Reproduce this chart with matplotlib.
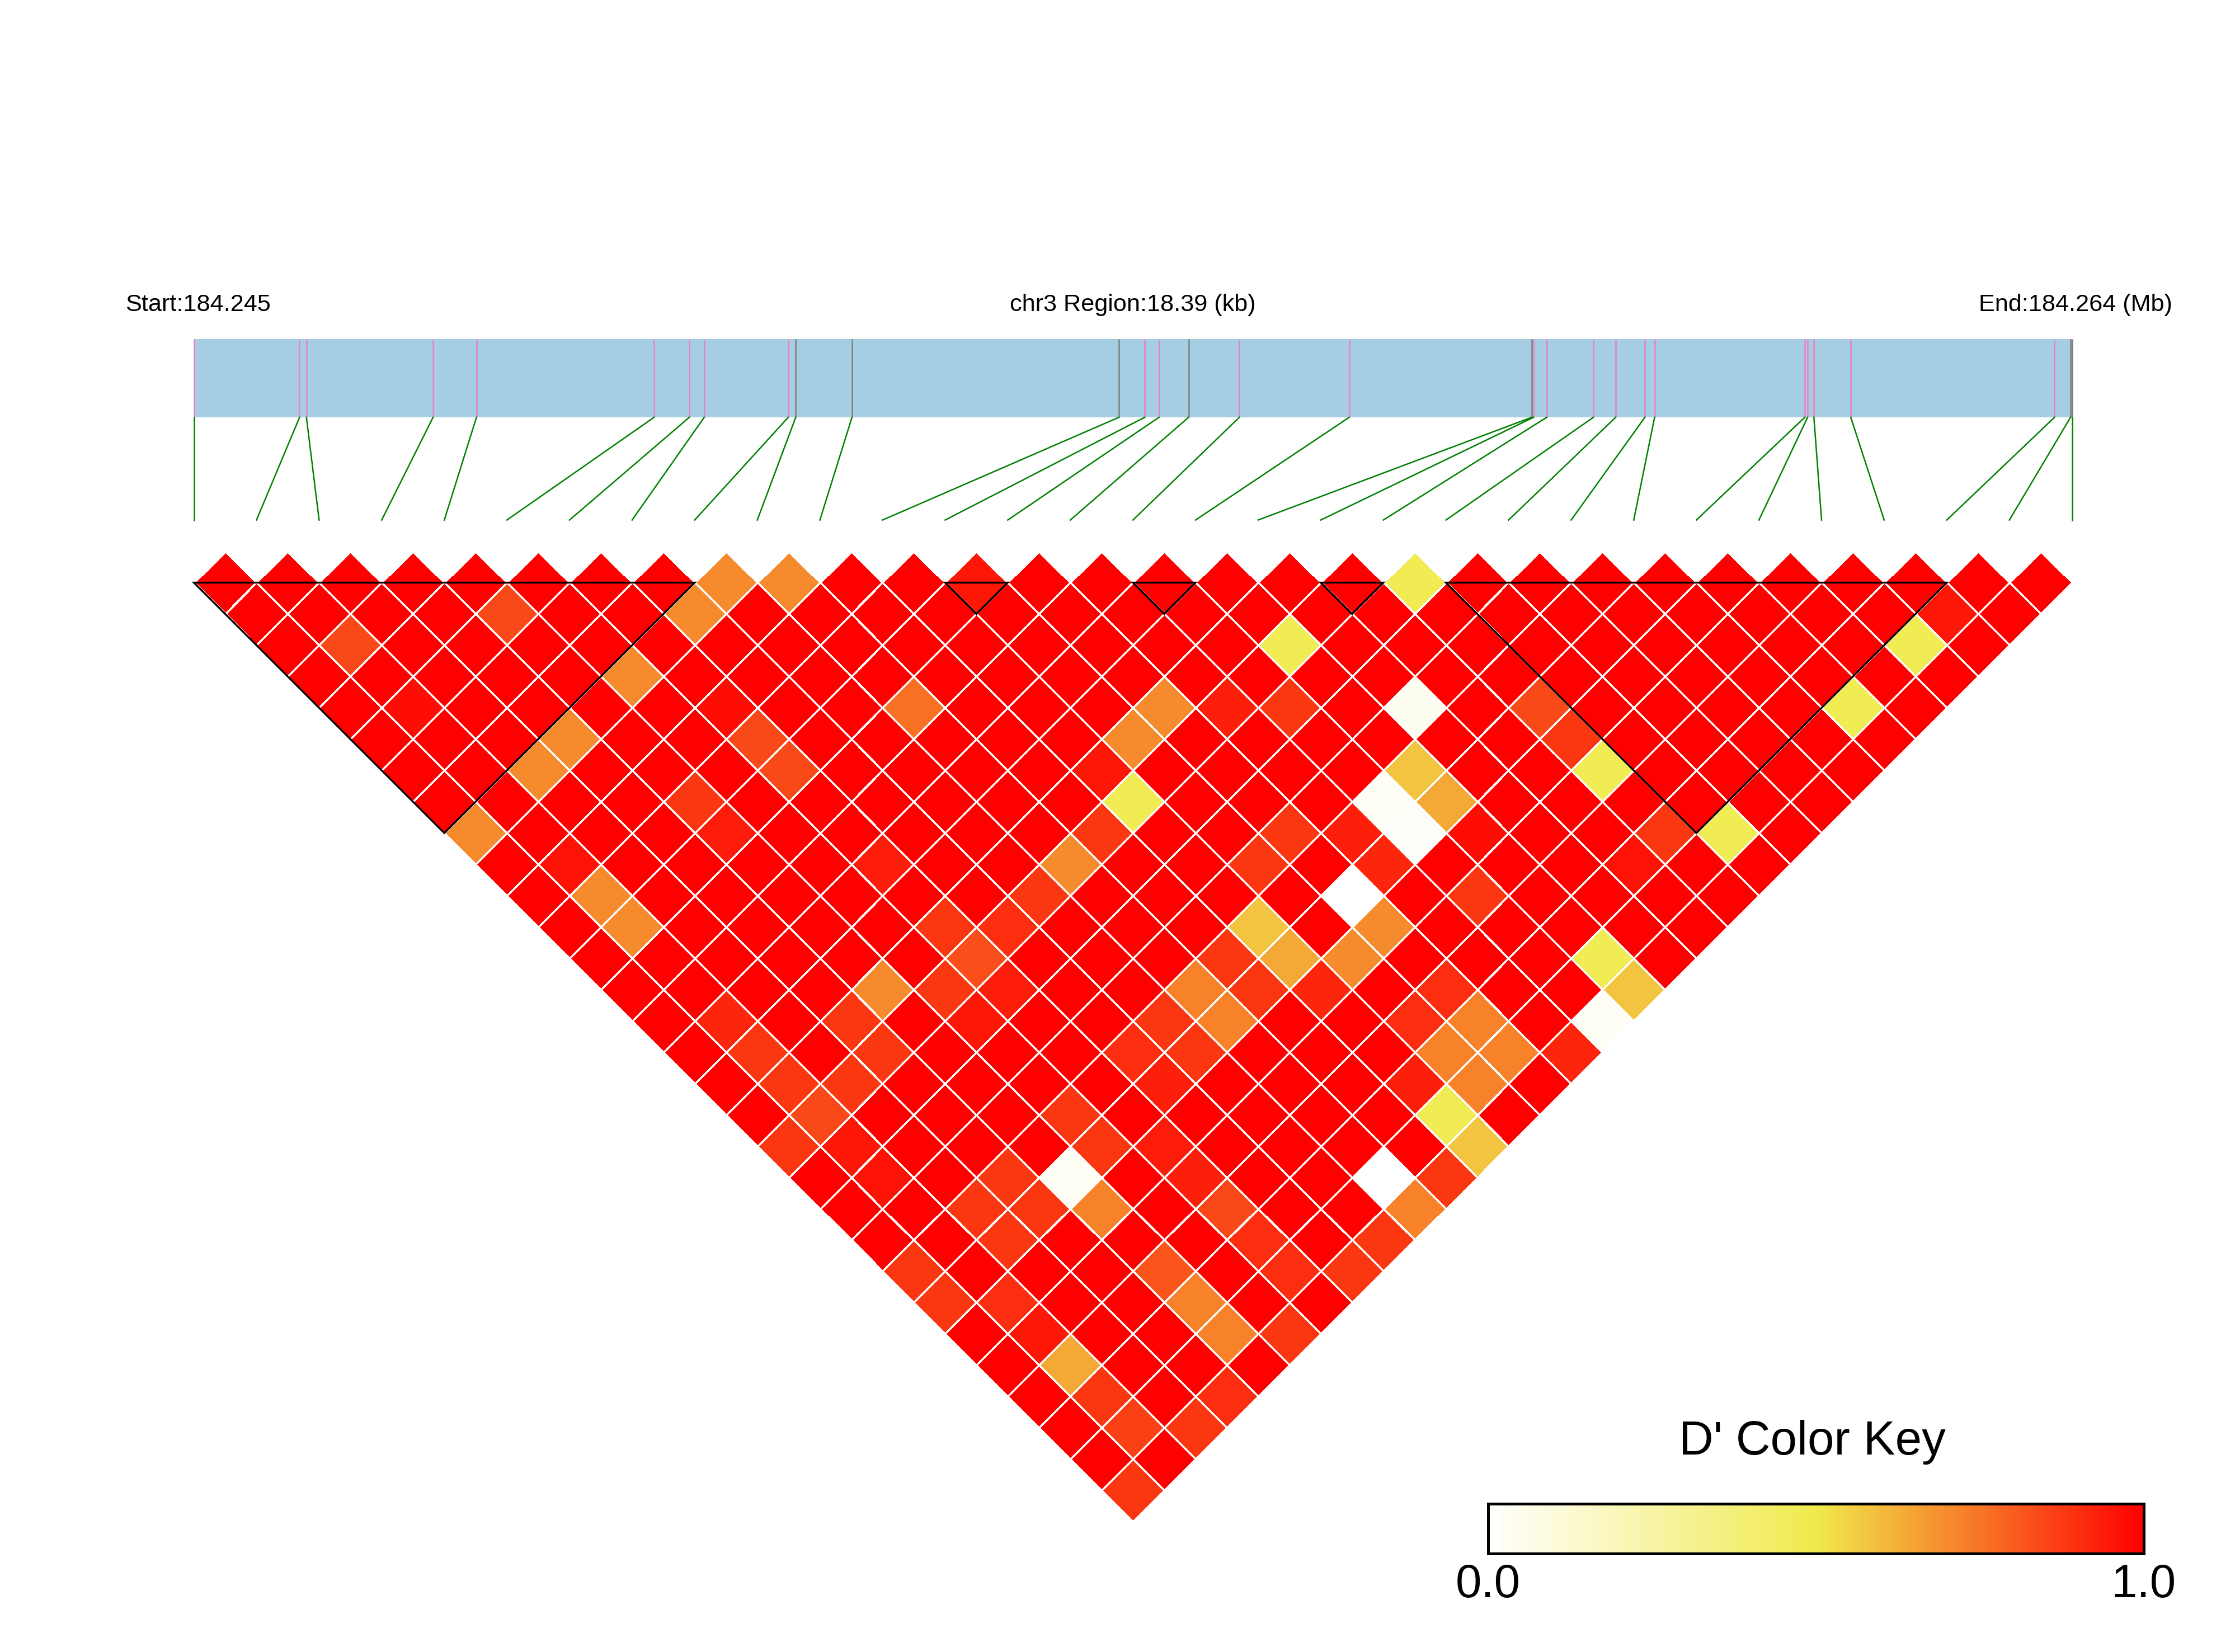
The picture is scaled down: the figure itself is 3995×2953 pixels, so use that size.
import numpy as np
import matplotlib.pyplot as plt
from matplotlib.colors import LinearSegmentedColormap
from matplotlib.transforms import Affine2D
from matplotlib.patches import Polygon, Rectangle

plt.rcParams['font.family'] = ['Liberation Sans', 'DejaVu Sans']

chrom = 'chr3'
start_mb = 184.245
end_mb = 184.264
region_kb = 18.39

# SNP positions, kb from region start
snp_pos_kb = [0.000, 1.035, 1.102, 2.342, 2.767, 4.506, 4.851, 4.997, 5.820, 5.893,
              6.444, 9.058, 9.310, 9.450, 9.740, 10.237, 11.313, 13.100, 13.118, 13.247,
              13.704, 13.922, 14.208, 14.303, 15.774, 15.801, 15.863, 16.224, 18.219, 18.376,
              18.390]
snp_gray = [9, 10, 11, 14, 17, 29, 30]

# pairs with D' < 1 (every other pair is 1.0)
low_i = [0, 2, 3, 5, 7, 8, 9, 1, 4, 1, 6, 6, 6, 4, 4, 1, 1, 1, 12, 19, 16, 9, 13, 14, 15, 17,
         12, 11, 11, 16, 16, 15, 15, 13, 10, 9, 8, 13, 12, 14, 14, 6,
         27, 26, 24, 19, 19, 19, 19, 20, 16, 15, 18,
         11, 11, 12, 13, 10, 9, 9, 10, 11, 8, 8, 7, 7, 6, 6, 9, 9, 10, 16, 16, 15, 11, 11, 12,
         13, 13, 12, 12, 13, 14,
         6, 6, 7, 4, 5, 5, 1, 1, 1, 1, 0, 2, 3, 1, 1, 5, 5, 4, 4, 3,
         6, 6, 2, 3, 2, 0, 0, 1, 1, 1, 1, 1, 2, 3, 4, 4, 4, 5, 7, 8, 0,
         6, 11, 6, 3]
low_j = [9, 9, 9, 9, 9, 9, 10, 4, 6, 6, 11, 12, 13, 12, 13, 11, 12, 13, 13, 20, 19, 14, 18, 19, 20, 22,
         18, 18, 19, 23, 24, 23, 24, 24, 19, 19, 19, 22, 22, 23, 24, 16,
         29, 29, 29, 24, 25, 26, 28, 29, 25, 26, 28,
         23, 24, 25, 25, 23, 23, 24, 24, 25, 23, 24, 23, 24, 25, 27, 29, 30, 30, 29, 30, 30, 29, 30, 28,
         29, 28, 29, 27, 27, 30,
         18, 19, 19, 18, 19, 20, 16, 17, 18, 19, 19, 19, 19, 20, 21, 23, 24, 24, 25, 23,
         26, 28, 23, 24, 24, 23, 24, 25, 26, 27, 28, 29, 30, 30, 28, 29, 27, 30, 30, 30, 30,
         20, 28, 29, 18]
low_d = [.70, .70, .70, .70, .70, .70, .70, .84, .84, .97, .97, .84, .84, .88, .94, .96, .70, .70, .95, .48, .48, .76, .70, .93, .88, .04,
         .70, .95, .48, .58, .64, .03, .02, .00, .88, .70, .88, .88, .88, .93, .92, .94,
         .95, .48, .48, .84, .88, .48, .88, .48, .97, .88, .96,
         .58, .64, .70, .70, .88, .72, .72, .88, .92, .88, .88, .90, .93, .94, .84, .00, .72, .88, .48, .58, .03, .48, .58, .72,
         .72, .72, .72, .90, .90, .92,
         .88, .83, .90, .70, .88, .95, .92, .88, .88, .84, .88, .88, .88, .95, .96, .88, .88, .03, .72, .88,
         .93, .90, .88, .88, .88, .88, .88, .90, .95, .64, .88, .86, .88, .90, .72, .72, .82, .88, .88, .88, .88,
         .94, .93, .90, .88]

block_first = [0, 12, 15, 18, 20]
block_last = [8, 13, 16, 19, 28]

n = len(snp_pos_kb)
dp = np.full((n, n), np.nan)
for i in range(n):
    dp[i, i + 1:] = 1.0
for i, j, v in zip(low_i, low_j, low_d):
    dp[i, j] = v

cmap = LinearSegmentedColormap.from_list('ld', ['#FFFFFF', '#F0EA4C', '#FF0000'])

fig = plt.figure(figsize=(3995 / 300, 2953 / 300), dpi=300)
ax = fig.add_axes([0, 0, 1, 1])
ax.set_xlim(-3.097, 32.604)
ax.set_ylim(-17.082, 9.307)
ax.axis('off')

# turn the (snp j, snp i) grid by 45 degrees so each pair becomes a diamond
rot = Affine2D().from_values(0.5, -0.5, 0.5, 0.5, -0.5, 0.5) + ax.transData
mesh = ax.pcolormesh(np.arange(n + 1), np.arange(n + 1), np.ma.masked_invalid(dp),
                     cmap=cmap, vmin=0, vmax=1, edgecolors='white', linewidth=0.6,
                     transform=rot)

for a, b in zip(block_first, block_last):
    ax.add_patch(Polygon([(a + 1, a), (b + 1, b), (b + 1, a)], closed=True, fill=False,
                         edgecolor='black', lw=0.8, transform=rot))

# chromosome bar and SNP links
bar_bottom, bar_top = 2.641, 3.892
px = np.array(snp_pos_kb) / region_kb * (n - 1)
ax.add_patch(Rectangle((0, bar_bottom), n - 1, bar_top - bar_bottom,
                       facecolor='#A6CEE3', edgecolor='none'))
line_cols = ['#7F7F7F' if k in snp_gray else '#EE7FC4' for k in range(n)]
ax.vlines(px, bar_bottom, bar_top, colors=line_cols, lw=0.6)
for k in range(n):
    ax.plot([px[k], k], [bar_bottom, 1.0], color='green', lw=0.6)

ax.text(-1.096, 4.437, 'Start:%.3f' % start_mb, ha='left', va='center', fontsize=10.4)
ax.text((n - 1) / 2, 4.437, '%s Region:%.2f (kb)' % (chrom, region_kb),
        ha='center', va='center', fontsize=10.4)
ax.text(31.60, 4.437, 'End:%.3f (Mb)' % end_mb, ha='right', va='center', fontsize=10.4)

# colour key
ax.text(25.85, -13.73, "D' Color Key", ha='center', va='center', fontsize=20.5)
cax = fig.add_axes([0.6658, 0.0596, 0.2934, 0.0301])
cb = fig.colorbar(mesh, cax=cax, orientation='horizontal')
cb.set_ticks([])
cb.outline.set_linewidth(1.2)
cax.text(0, -0.63, '0.0', ha='center', va='center', fontsize=20, transform=cax.transAxes)
cax.text(1, -0.63, '1.0', ha='center', va='center', fontsize=20, transform=cax.transAxes)

fig.savefig('out.png', dpi=300)
